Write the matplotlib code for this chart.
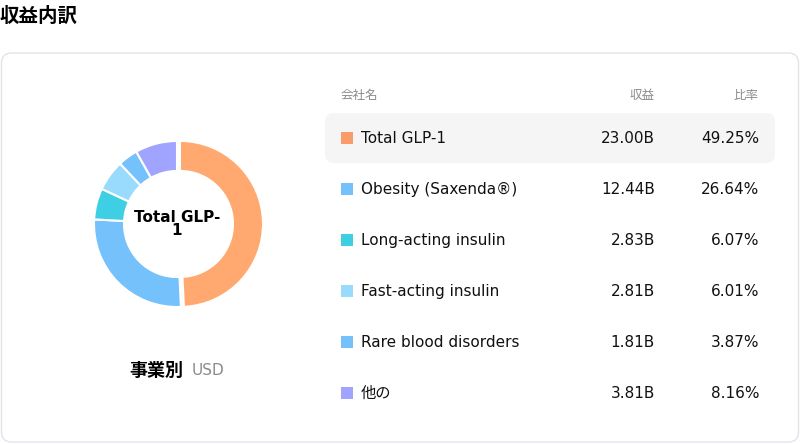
import matplotlib
matplotlib.use("Agg")
import matplotlib.pyplot as plt
from matplotlib.patches import FancyBboxPatch, Rectangle

plt.rcParams['font.family'] = ['DejaVu Sans', 'Noto Sans CJK JP']

names = ["Total GLP-1", "Obesity (Saxenda®)", "Long-acting insulin", "Fast-acting insulin", "Rare blood disorders", "他の"]
revenue = [23.00, 12.44, 2.83, 2.81, 1.81, 3.81]
shares = [49.25, 26.64, 6.07, 6.01, 3.87, 8.16]
colors = ["#FFA86F", "#74C1FC", "#3ECFE5", "#99DBFC", "#74C1FC", "#A0A4FF"]
legend_colors = ["#F99B6A", "#74C1FC", "#3ECFE5", "#99DBFC", "#74C1FC", "#A0A4FF"]

W, H = 800, 444
fig = plt.figure(figsize=(8, 4.44), dpi=100)
bg = fig.add_axes([0, 0, 1, 1])
bg.set_xlim(0, W); bg.set_ylim(H, 0); bg.axis('off')

bg.text(0, 16, "収益内訳", fontsize=14, fontweight='bold', va='center', ha='left',
        family=['Noto Sans CJK JP'])
bg.add_patch(FancyBboxPatch((1.5, 53), 797, 389, boxstyle="round,pad=0,rounding_size=10",
                            fc='white', ec='#E3E3EA', lw=1))
bg.add_patch(FancyBboxPatch((325, 113), 450, 50, boxstyle="round,pad=0,rounding_size=9",
                            fc='#F5F5F5', ec='none'))

bg.text(341, 95, "会社名", fontsize=9, color='#8A8A8A', va='center', family=['Noto Sans CJK JP'])
bg.text(655, 95, "収益", fontsize=9, color='#8A8A8A', va='center', ha='right', family=['Noto Sans CJK JP'])
bg.text(759, 95, "比率", fontsize=9, color='#8A8A8A', va='center', ha='right', family=['Noto Sans CJK JP'])

for i, (n, r, s) in enumerate(zip(names, revenue, shares)):
    y = 138 + i * 51
    bg.add_patch(Rectangle((341, y - 6), 12, 12, fc=legend_colors[i], ec='none'))
    bg.text(361, y, n, fontsize=11, va='center', ha='left', color='#111')
    bg.text(655, y, f"{r:.2f}B", fontsize=11, va='center', ha='right', color='#111')
    bg.text(759, y, f"{s:.2f}%", fontsize=11, va='center', ha='right', color='#111')

bg.text(183, 370, "事業別", fontsize=13, fontweight='bold', va='center', ha='right',
        family=['Noto Sans CJK JP'])
bg.text(192, 370, "USD", fontsize=11, color='#8A8A8A', va='center', ha='left')

cx, cy, S = 177, 224, 200
pax = fig.add_axes([(cx - S/2)/W, (H - cy - S/2)/H, S/W, S/H])
explode = [0.03, 0, 0, 0, 0, 0]
pax.pie(revenue, colors=colors, startangle=90, counterclock=False, radius=0.83,
        explode=explode, wedgeprops=dict(width=0.3, edgecolor='white', linewidth=1.5))
pax.set_xlim(-1, 1); pax.set_ylim(-1, 1); pax.set_aspect('equal')
pax.text(0, 0, "Total GLP-\n1", ha='center', va='center', fontsize=11, fontweight='bold',
         linespacing=0.9)

fig.savefig("out.png", dpi=100)
